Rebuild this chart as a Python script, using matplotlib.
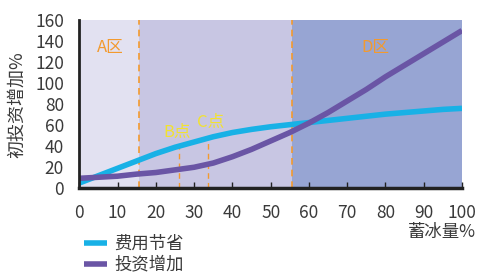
import matplotlib

matplotlib.use("Agg")

import matplotlib.pyplot as plt

plt.rcParams["font.family"] = ["Noto Sans CJK SC", "DejaVu Sans"]

# ice storage ratio (%)
storage = [0, 5, 10, 15, 20, 25, 30, 35, 40, 45, 50, 55, 60, 65, 70, 75, 80, 85, 90, 95, 100]
# cost saving curve
saving = [5, 12, 19, 26, 33, 39, 44, 49, 53, 56, 58.5, 60.5, 62.5, 64.5, 66.5, 68.5, 70.5, 72, 73.5, 75, 76]
# initial investment increase curve
invest = [9.5, 10.5, 11.5, 13.5, 15, 17.5, 20, 24, 30, 37, 45, 53, 62, 72, 83, 94, 106, 117, 128, 139, 150]

zone_bounds = [15.5, 55.5]
point_b = (26, 40)
point_c = (33.5, 47)

TEXT = "#3a3a3a"
ORANGE = "#f39a2e"
YELLOW = "#f2e230"

fig = plt.figure(figsize=(4.79, 2.73), dpi=100)
ax = fig.add_axes([0.1656, 0.3103, 0.7989, 0.6164])

ax.axvspan(0, zone_bounds[0], color="#e2e1f1", lw=0)
ax.axvspan(zone_bounds[0], zone_bounds[1], color="#c8c6e3", lw=0)
ax.axvspan(zone_bounds[1], 100, color="#97a5d3", lw=0)

for xb in zone_bounds:
    ax.plot([xb, xb], [0, 160], color=ORANGE, lw=1.2, ls=(0, (4, 3)))
for px, py in (point_b, point_c):
    ax.plot([px, px], [0, py], color=ORANGE, lw=1.0, ls=(0, (4, 3)))

ax.plot(storage, saving, color="#18b1e6", lw=4, label="费用节省", solid_capstyle="butt")
ax.plot(storage, invest, color="#6a55a5", lw=4, label="投资增加", solid_capstyle="butt")

ax.text(8.2, 134, "A区", color=ORANGE, fontsize=12, ha="center", va="center")
ax.text(77.3, 134, "D区", color=ORANGE, fontsize=12, ha="center", va="center")
ax.text(25.5, 53, "B点", color=YELLOW, fontsize=12, ha="center", va="center")
ax.text(34.4, 63, "C点", color=YELLOW, fontsize=12, ha="center", va="center")

ax.set_xlim(0, 100)
ax.set_ylim(0, 160)
ax.set_xticks(range(0, 101, 10))
ax.set_yticks(range(0, 161, 20))
ax.tick_params(axis="x", direction="in", length=4, width=1, color="#222222",
               labelsize=12.5, labelcolor=TEXT, pad=11)
ax.tick_params(axis="y", length=0, labelsize=12.5, labelcolor=TEXT, pad=11)
for side in ("top", "right"):
    ax.spines[side].set_visible(False)
ax.spines["left"].set_linewidth(2)
ax.spines["bottom"].set_linewidth(2.5)
ax.spines["left"].set_color("#222222")
ax.spines["bottom"].set_color("#222222")

ax.set_ylabel("初投资增加%", fontsize=13, color=TEXT)
ax.yaxis.set_label_coords(-0.138, 0.5)
fig.text(476 / 479, 1 - 232 / 273, "蓄冰量%", fontsize=12.5, color=TEXT, ha="right", va="center")

fig.legend(loc="upper left", bbox_to_anchor=(84 / 479, 1 - 235 / 273), frameon=False,
           fontsize=12.5, handlelength=1.35, handletextpad=0.4, labelspacing=0.15,
           borderaxespad=0, borderpad=0, labelcolor=TEXT)

fig.savefig("out.png", dpi=100)
